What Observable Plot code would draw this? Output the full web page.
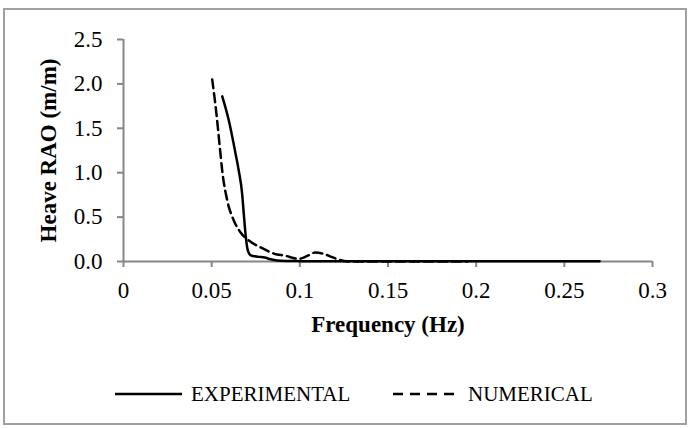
<!DOCTYPE html>
<html>
<head>
<meta charset="utf-8">
<script src="https://cdn.jsdelivr.net/npm/d3@7"></script>
<script src="https://cdn.jsdelivr.net/npm/@observablehq/plot@0.6"></script>
<style>
  html, body { margin: 0; padding: 0; background: #fff; }
  #wrap { position: relative; width: 691px; height: 428px; overflow: hidden; font-family: "Liberation Serif", "Times New Roman", serif; }
  #frame { position: absolute; left: 3px; top: 8px; width: 684px; height: 417px; border: 2px solid #a0a0a0; box-sizing: border-box; }
  #chart { position: absolute; left: 0; top: 0; }
  #chart svg, #chart svg text { font-family: "Liberation Serif", "Times New Roman", serif !important; }
  .leg { position: absolute; top: 381px; height: 26px; display: flex; align-items: center; font-size: 21px; color: #000; }
  .leg svg { display: block; }
</style>
</head>
<body>
<div id="wrap">
  <div id="frame"></div>
  <div id="chart"></div>
</div>
<script>
// Series: frequency (Hz) and Heave RAO (m/m)
const expFreq = [0.056, 0.0597, 0.0635, 0.0654, 0.0673, 0.0682, 0.0692, 0.0701, 0.0712, 0.0722, 0.0745, 0.0767, 0.080, 0.0834, 0.087, 0.092, 0.100, 0.110, 0.130, 0.150, 0.160, 0.175, 0.200, 0.230, 0.270];
const expRAO  = [1.86,  1.59,   1.22,   1.02,   0.76,   0.54,   0.31,   0.16,   0.09,   0.068,  0.058,  0.052,  0.045, 0.025,  0.011, 0.006, 0.004, 0.003, 0.002, 0.002, 0.004, 0.002, 0.002, 0.002, 0.002];

const numFreq = [0.0503, 0.0516, 0.0531, 0.0546, 0.056, 0.0588, 0.0626, 0.0663, 0.0711, 0.0777, 0.0872, 0.0909, 0.0994, 0.104, 0.1085, 0.113, 0.1175, 0.1215, 0.125, 0.130, 0.150, 0.175, 0.195];
const numRAO  = [2.05,   1.85,   1.59,   1.29,   1.02,  0.69,   0.46,   0.33,   0.236,  0.16,   0.079,  0.068,  0.03,   0.06,  0.10,   0.09,  0.055,  0.025,  0.006, 0.0,   0.0,   0.0,   0.0];

const xTicks = [0, 0.05, 0.1, 0.15, 0.2, 0.25, 0.3];
const yTicks = [0, 0.5, 1.0, 1.5, 2.0, 2.5];
const xTitle = "Frequency (Hz)";
const yTitle = "Heave RAO (m/m)";
const seriesNames = ["EXPERIMENTAL", "NUMERICAL"];

const expData = expFreq.map((f, i) => ({f, r: expRAO[i]}));
const numData = numFreq.map((f, i) => ({f, r: numRAO[i]}));

const axisGray = "#868686";
const serif = "Liberation Serif";

const chart = Plot.plot({
  width: 691,
  height: 345,
  marginLeft: 123,
  marginRight: 39,
  marginTop: 39,
  marginBottom: 84,
  style: {fontFamily: serif, fontSize: "23px", color: "#000", background: "transparent", overflow: "visible"},
  x: {domain: [0, 0.3]},
  y: {domain: [0, 2.5]},
  marks: [
    Plot.ruleY([0], {stroke: axisGray, strokeWidth: 2}),
    Plot.ruleX([0], {stroke: axisGray, strokeWidth: 2}),
    Plot.axisX({ticks: xTicks, tickFormat: d => String(d), tickSize: 6, tickPadding: 14, stroke: axisGray, strokeWidth: 2, fill: "#000",
      fontFamily: serif, fontSize: 23, label: xTitle, labelAnchor: "center", labelArrow: "none", labelOffset: 70}),
    Plot.axisY({ticks: yTicks, tickFormat: d => d.toFixed(1), tickSize: 6, tickPadding: 15, stroke: axisGray, strokeWidth: 2, fill: "#000",
      fontFamily: serif, fontSize: 23, label: yTitle, labelAnchor: "center", labelArrow: "none", labelOffset: 84}),
    Plot.line(numData, {x: "f", y: "r", stroke: "#000", strokeWidth: 2.5, strokeDasharray: "9,5", curve: "monotone-x"}),
    Plot.line(expData, {x: "f", y: "r", stroke: "#000", strokeWidth: 2.5, curve: "monotone-x"})
  ]
});
document.getElementById("chart").appendChild(chart);

// font sizes for axes, bold axis titles, strip any arrows
const sel = d3.select(chart);
sel.selectAll('g[aria-label="x-axis tick label"], g[aria-label="y-axis tick label"]')
  .attr("font-size", 23).attr("font-family", serif);
sel.selectAll('g[aria-label="x-axis label"] text, g[aria-label="y-axis label"] text')
  .style("font-weight", "bold").style("font-size", "23px")
  .each(function() {
    const t = d3.select(this);
    const s = t.text().replace(/[\u2190-\u2193]/g, "").trim();
    t.text(s);
  });

// legend
const wrap = document.getElementById("wrap");
const legendItems = [
  {name: seriesNames[0], dash: null, left: 115, w: 67, gap: 9},
  {name: seriesNames[1], dash: "10,7", left: 393, w: 61, gap: 14}
];
legendItems.forEach(it => {
  const div = document.createElement("div");
  div.className = "leg";
  div.style.left = it.left + "px";
  const sw = d3.create("svg").attr("width", it.w).attr("height", 6);
  sw.append("line").attr("x1", 0).attr("x2", it.w).attr("y1", 3).attr("y2", 3)
    .attr("stroke", "#000").attr("stroke-width", 2.5).attr("stroke-dasharray", it.dash);
  div.appendChild(sw.node());
  const span = document.createElement("span");
  span.textContent = it.name;
  span.style.marginLeft = it.gap + "px";
  div.appendChild(span);
  wrap.appendChild(div);
});
</script>
</body>
</html>
